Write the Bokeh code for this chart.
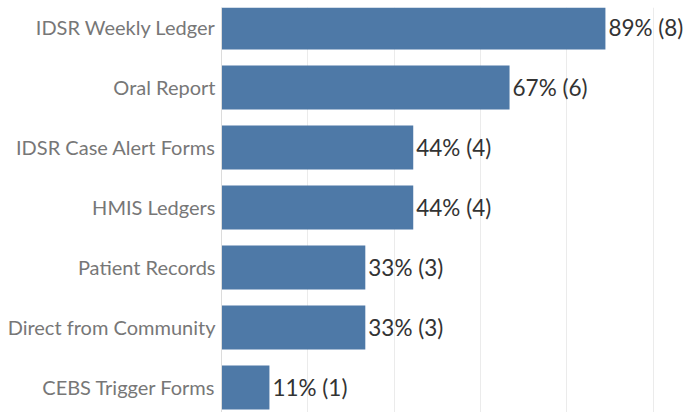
from bokeh.plotting import figure
from bokeh.models import Range1d, FixedTicker, ColumnDataSource
from bokeh.core.properties import value
from bokeh.embed import file_html
from bokeh.resources import INLINE

categories = ["IDSR Weekly Ledger", "Oral Report", "IDSR Case Alert Forms",
              "HMIS Ledgers", "Patient Records", "Direct from Community",
              "CEBS Trigger Forms"]
percents = [88.9, 66.7, 44.4, 44.4, 33.3, 33.3, 11.1]
counts = [8, 6, 4, 4, 3, 3, 1]
grid_ticks = [0, 20, 40, 60, 80, 100]

ypos = list(range(len(categories)))
labels = [f"{round(p)}% ({c})" for p, c in zip(percents, counts)]
src = ColumnDataSource(dict(y=ypos, right=percents, label=labels))

FONT = "Lato"
p = figure(width=690, height=412, output_backend="svg", toolbar_location=None,
           x_range=Range1d(0, 108.6), y_range=Range1d(6.417, -0.333),
           min_border_left=221, min_border_right=0, min_border_top=7,
           min_border_bottom=0)
p.outline_line_color = None
p.hbar(y="y", left=0, right="right", height=0.73, source=src,
       fill_color="#4e79a7", line_color=None)
p.text(x="right", y="y", text="label", source=src, x_offset=3,
       text_baseline="middle", text_align="left", text_font=value(FONT),
       text_font_size="22.5px", text_color="#333333")

p.xaxis.visible = False
p.xgrid.ticker = FixedTicker(ticks=grid_ticks)
p.xgrid.grid_line_color = "#ebebeb"
p.ygrid.grid_line_color = None

ya = p.yaxis[0]
ya.ticker = FixedTicker(ticks=ypos)
ya.major_label_overrides = {i: c for i, c in zip(ypos, categories)}
ya.major_tick_line_color = None
ya.minor_tick_line_color = None
ya.major_tick_out = 0
ya.major_label_standoff = 6
ya.axis_line_color = "#dcdcdc"
ya.major_label_text_font = FONT
ya.major_label_text_font_size = "20px"
ya.major_label_text_color = "#777777"

open("out.html", "w").write(file_html(p, INLINE))
